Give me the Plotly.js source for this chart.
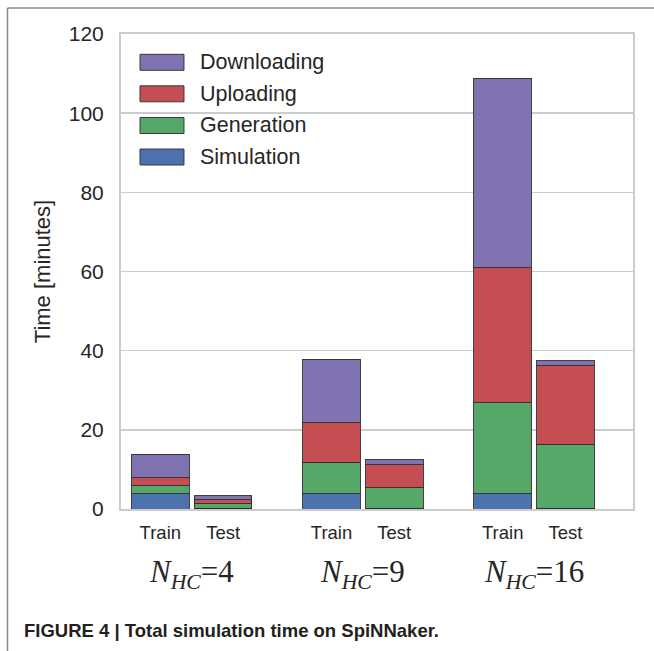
<!DOCTYPE html>
<html>
<head>
<meta charset="utf-8">
<script src="https://cdn.plot.ly/plotly-3.0.1.min.js"></script>
<style>
  html, body { margin: 0; padding: 0; background: #ffffff; }
  #chart { width: 654px; height: 651px; }
</style>
</head>
<body>
<div id="chart"></div>
<script>
// ---- data ----
const groupLabels = ['4', '9', '16'];          // N_HC values
const phaseLabels = ['Train', 'Test'];
const seriesNames = ['Simulation', 'Generation', 'Uploading', 'Downloading'];
// order: Train4, Test4, Train9, Test9, Train16, Test16
const simulation  = [3.9, 0.2, 3.8, 0.2, 3.8, 0.2];
const generation  = [2.0, 1.1, 8.0, 5.2, 23.0, 16.1];
const uploading   = [2.0, 1.0, 10.0, 5.8, 34.1, 19.9];
const downloading = [5.9, 1.0, 16.0, 1.2, 47.9, 1.3];
const yTicks = [0, 20, 40, 60, 80, 100, 120];

// ---- layout helpers ----
const W = 654, H = 651;
const M = {l: 121, r: 21, t: 34, b: 142};
const PW = W - M.l - M.r, PH = H - M.t - M.b;
const px = x => (x - M.l) / PW;
const py = y => (H - M.b - y) / PH;

const groupStep = 2.726;
const xPos = [];
const tickText = [];
groupLabels.forEach((g, gi) => {
  phaseLabels.forEach((p, pi) => {
    xPos.push(gi * groupStep + pi);
    tickText.push(p);
  });
});

const colors = {
  Simulation: '#4C72B0',
  Generation: '#55A868',
  Uploading: '#C44E52',
  Downloading: '#8172B2'
};
const seriesValues = [simulation, generation, uploading, downloading];

const traces = seriesNames.map((name, i) => ({
  type: 'bar',
  name: name,
  x: xPos,
  y: seriesValues[i],
  width: 0.916,
  marker: {color: colors[name], line: {color: 'rgba(45,45,45,0.9)', width: 1}},
  showlegend: false,
  hoverinfo: 'skip'
}));

const font = 'Liberation Sans, Arial, sans-serif';
const shapes = [];
const annotations = [];

// page border lines (top and left)
shapes.push({type: 'line', xref: 'paper', yref: 'paper',
  x0: px(7.5), x1: px(W + 2), y0: py(8), y1: py(8),
  line: {color: '#8a8a8a', width: 1.5}});
shapes.push({type: 'line', xref: 'paper', yref: 'paper',
  x0: px(7.5), x1: px(7.5), y0: py(8), y1: py(H + 2),
  line: {color: '#8a8a8a', width: 1.5}});

// custom legend (top to bottom)
const legendOrder = ['Downloading', 'Uploading', 'Generation', 'Simulation'];
const rowY = [62.3, 93.8, 125.5, 157];
legendOrder.forEach((name, i) => {
  shapes.push({type: 'rect', xref: 'paper', yref: 'paper',
    x0: px(140), x1: px(184), y0: py(rowY[i] - 8), y1: py(rowY[i] + 8),
    fillcolor: colors[name], line: {color: 'rgba(45,45,45,0.9)', width: 1}});
  annotations.push({xref: 'paper', yref: 'paper', x: px(198), y: py(rowY[i]),
    xanchor: 'left', yanchor: 'middle', showarrow: false, text: name,
    font: {family: font, size: 21.5, color: '#262626'}});
});

// group labels N_HC = ...
groupLabels.forEach((g, gi) => {
  annotations.push({xref: 'x', yref: 'paper', x: gi * groupStep + 0.5, y: py(574),
    xanchor: 'center', yanchor: 'middle', showarrow: false,
    text: '<i>N</i><sub><i>HC</i></sub>=' + g,
    font: {family: 'Liberation Serif, DejaVu Serif, serif', size: 31, color: '#262626'}});
});

// caption
annotations.push({xref: 'paper', yref: 'paper', x: px(22), y: py(630),
  xanchor: 'left', yanchor: 'middle', showarrow: false,
  text: '<b>FIGURE 4 | Total simulation time on SpiNNaker.</b>',
  font: {family: font, size: 18.5, color: '#231f20'}});

const layout = {
  width: W, height: H,
  margin: M,
  paper_bgcolor: '#ffffff',
  plot_bgcolor: '#ffffff',
  barmode: 'stack',
  showlegend: false,
  font: {family: font, color: '#262626'},
  xaxis: {
    range: [-0.626, 7.527],
    tickvals: xPos, ticktext: tickText,
    tickfont: {family: font, size: 18.5, color: '#262626'},
    ticks: '', showgrid: false, zeroline: false,
    showline: true, mirror: true, linecolor: '#cccccc', linewidth: 2,
    ticklabelstandoff: 6
  },
  yaxis: {
    range: [0, 120],
    tickvals: yTicks,
    tickfont: {family: font, size: 21, color: '#262626'},
    ticks: '', showgrid: true, gridcolor: '#cccccc', gridwidth: 1.6,
    zeroline: false,
    showline: true, mirror: true, linecolor: '#cccccc', linewidth: 2,
    ticklabelstandoff: 11,
    title: {text: 'Time [minutes]', font: {family: font, size: 22, color: '#262626'}, standoff: 12}
  },
  shapes: shapes,
  annotations: annotations
};

Plotly.newPlot('chart', traces, layout, {displayModeBar: false, staticPlot: true});
</script>
</body>
</html>
